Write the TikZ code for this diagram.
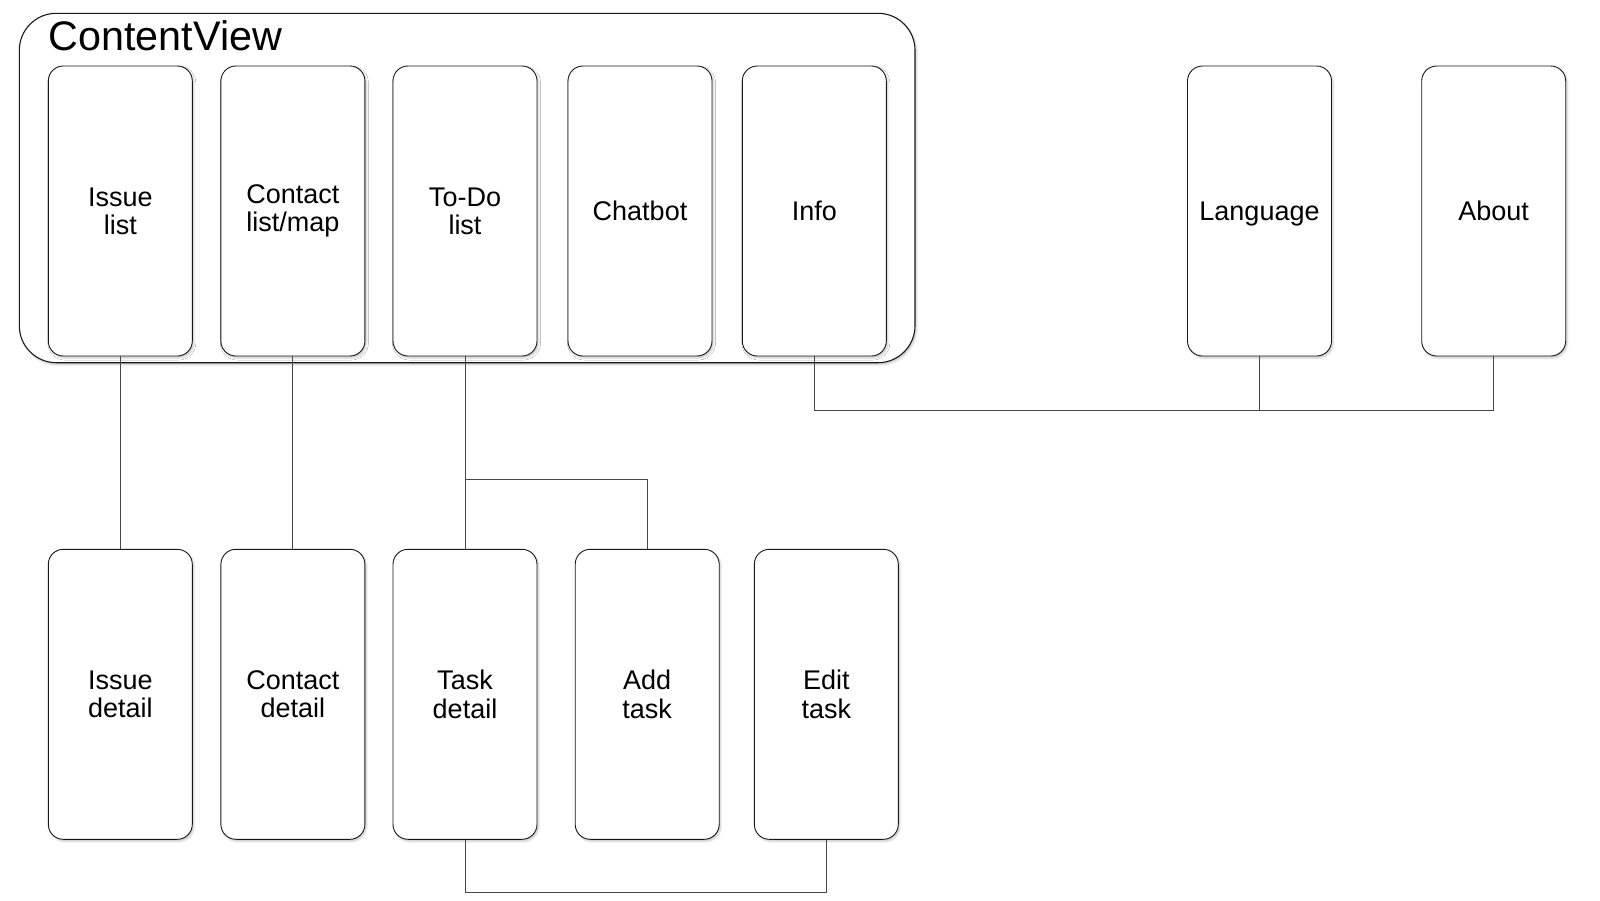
\documentclass[tikz,border=0pt]{standalone}
\usepackage{fontspec}
\setmainfont{Liberation Sans}
\usetikzlibrary{shadows.blur}
\begin{document}
\begin{tikzpicture}[x=1pt,y=-1pt,
  softshadow/.style={blur shadow={shadow xshift=1.5pt, shadow yshift=-2pt, shadow blur radius=2pt, shadow opacity=22}},
  screen/.style={draw=black!90, line width=0.9pt, rounded corners=15pt, fill=white,
    minimum width=144pt, minimum height=290pt, inner sep=0pt, align=center,
    font=\fontsize{27}{28.3}\selectfont, softshadow},
  container/.style={draw=black!90, line width=1.1pt, rounded corners=37pt, fill=white,
    minimum width=895.7pt, minimum height=349.4pt, inner sep=0pt, softshadow},
  link/.style={draw=black!72, line width=0.9pt}]
\useasboundingbox (0,0) rectangle (1600,900);
% container
\node[container] (cv) at (467.15,188) {};
\node[anchor=base west, inner sep=0pt, font=\fontsize{41.3}{46}\selectfont] (cvlabel) at (48.5,50) {ContentView};
% top row
\node[screen] (issue) at (120.3,211) {Issue\\list};
\node[screen] (contact) at (292.9,211) {Contact\\list/map};
\node[screen] (todo) at (465,211) {To-Do\\list};
\node[screen] (chat) at (640,211) {Chatbot};
\node[screen] (info) at (814.3,211) {Info};
\node[screen, text depth=0pt] (lang) at (1259.5,211) {Language};
\node[screen] (about) at (1493.7,211) {About};
% bottom row
\node[screen] (issued) at (120.3,694.3) {Issue\\detail};
\node[screen] (contactd) at (292.9,694.3) {Contact\\detail};
\node[screen] (taskd) at (465,694.3) {Task\\detail};
\node[screen] (add) at (647.2,694.3) {Add\\task};
\node[screen] (edit) at (826.3,694.3) {Edit\\task};
% connectors
\draw[link] (issue.south) -- (issued.north);
\draw[link] (contact.south) -- (contactd.north);
\draw[link] (todo.south) -- (taskd.north);
\draw[link] (todo.south) -- (todo.south |- 0,479) -| (add.north);
\draw[link] (taskd.south) -- (taskd.south |- 0,892.7) -| (edit.south);
\draw[link] (info.south) -- (info.south |- 0,410) -| (about.south);
\draw[link] (lang.south) -- (lang.south |- 0,410);
\end{tikzpicture}
\end{document}
